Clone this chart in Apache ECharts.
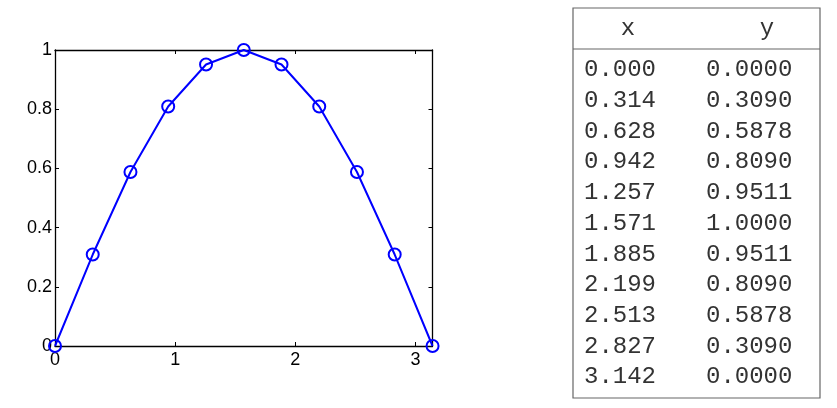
<!DOCTYPE html>
<html>
<head>
<meta charset="utf-8">
<script src="https://cdn.jsdelivr.net/npm/echarts@6/dist/echarts.min.js"></script>
<style>
html,body{margin:0;padding:0;background:#fff;}
#chart{width:837px;height:408px;}
</style>
</head>
<body>
<div id="chart"></div>
<script>
var xs = [0.000, 0.314, 0.628, 0.942, 1.257, 1.571, 1.885, 2.199, 2.513, 2.827, 3.142];
var ys = [0.0000, 0.3090, 0.5878, 0.8090, 0.9511, 1.0000, 0.9511, 0.8090, 0.5878, 0.3090, 0.0000];
var xTicks = [0, 1, 2, 3];
var yTicks = [0, 0.2, 0.4, 0.6, 0.8, 1];
var tableHeader = ['x', 'y'];

var chart = echarts.init(document.getElementById('chart'));

var tableLeft = 573, tableTop = 8, tableW = 247, tableH = 390;
var monoFont = '24px "Liberation Mono", "Courier New", monospace';
var graphics = [
  {type:'rect', shape:{x:tableLeft, y:tableTop, width:tableW, height:tableH},
   style:{fill:'#fff', stroke:'#666', lineWidth:1.2}, z:10},
  {type:'line', shape:{x1:tableLeft, y1:49, x2:tableLeft+tableW, y2:49},
   style:{stroke:'#666', lineWidth:1.2}, z:11},
  {type:'text', x:628, y:29, style:{text:tableHeader[0], font:monoFont, fill:'#333', align:'center', verticalAlign:'middle'}, z:12},
  {type:'text', x:767, y:29, style:{text:tableHeader[1], font:monoFont, fill:'#333', align:'center', verticalAlign:'middle'}, z:12}
];
for (var i = 0; i < xs.length; i++) {
  var ty = 70 + i * 30.7;
  graphics.push({type:'text', x:584, y:ty, style:{text:xs[i].toFixed(3), font:monoFont, fill:'#333', align:'left', verticalAlign:'middle'}, z:12});
  graphics.push({type:'text', x:706, y:ty, style:{text:ys[i].toFixed(4), font:monoFont, fill:'#333', align:'left', verticalAlign:'middle'}, z:12});
}

var labelStyle = {color:'#000', fontSize:18, fontFamily:'"Liberation Sans", Arial, sans-serif'};

chart.setOption({
  animation:false,
  backgroundColor:'#fff',
  grid:{left:55, top:50, width:377.5, height:296},
  xAxis:[
    {type:'value', min:0, max:Math.PI, position:'bottom',
     axisLine:{show:true, onZero:false, lineStyle:{color:'#000', width:1.3}},
     axisTick:{show:true, inside:true, length:4, customValues:xTicks, lineStyle:{color:'#000'}},
     axisLabel:Object.assign({margin:5, customValues:xTicks, formatter:function(v){return String(v);}}, labelStyle),
     splitLine:{show:false}},
    {type:'value', min:0, max:Math.PI, position:'top',
     axisLine:{show:true, onZero:false, lineStyle:{color:'#000', width:1.3}},
     axisTick:{show:true, inside:true, length:4, customValues:xTicks, lineStyle:{color:'#000'}},
     axisLabel:{show:false}, splitLine:{show:false}}
  ],
  yAxis:[
    {type:'value', min:0, max:1, interval:0.2, position:'left',
     axisLine:{show:true, onZero:false, lineStyle:{color:'#000', width:1.3}},
     axisTick:{show:true, inside:true, length:4, customValues:yTicks, lineStyle:{color:'#000'}},
     axisLabel:Object.assign({margin:3, customValues:yTicks, formatter:function(v){return String(v);}}, labelStyle),
     splitLine:{show:false}},
    {type:'value', min:0, max:1, interval:0.2, position:'right',
     axisLine:{show:true, onZero:false, lineStyle:{color:'#000', width:1.3}},
     axisTick:{show:true, inside:true, length:4, customValues:yTicks, lineStyle:{color:'#000'}},
     axisLabel:{show:false}, splitLine:{show:false}}
  ],
  series:[{
    type:'line',
    data:xs.map(function(x, i){return [x, ys[i]];}),
    symbol:'circle', symbolSize:12,
    itemStyle:{color:'rgba(0,0,0,0)', borderColor:'#0000ff', borderWidth:2},
    lineStyle:{color:'#0000ff', width:2},
    clip:false, z:5
  }],
  graphic:graphics
});
</script>
</body>
</html>
